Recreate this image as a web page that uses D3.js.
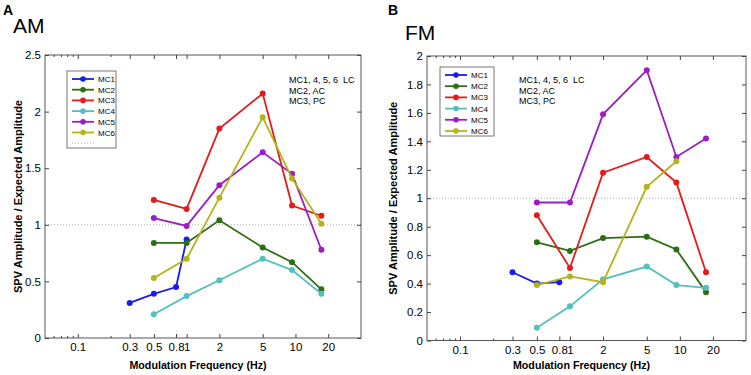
<!DOCTYPE html>
<html>
<head>
<meta charset="UTF-8">
<script src="https://cdn.jsdelivr.net/npm/d3@7"></script>
<style>
  body { margin: 0; background: #fff; }
  svg { font-family: "Liberation Sans", Arial, sans-serif; }
</style>
</head>
<body>
<script>
  // series names and colours
  const seriesNames = ["MC1", "MC2", "MC3", "MC4", "MC5", "MC6"];
  const seriesColors = ["#1a1af2", "#2c6e12", "#e41b1b", "#55bebe", "#9c1ec3", "#b4b41a"];

  // stimulus frequencies (Hz)
  const freqMC1 = [0.3, 0.5, 0.8];
  const freqMC1am = [0.3, 0.5, 0.8, 1];
  const freqMain = [0.5, 1, 2, 5, 9.3, 17.3];
  const freqMC6fm = [0.5, 1, 2, 5, 9.3];

  // AM panel values
  const amMC1 = [0.31, 0.39, 0.45, 0.87];
  const amMC2 = [0.84, 0.84, 1.04, 0.80, 0.67, 0.43];
  const amMC3 = [1.22, 1.14, 1.85, 2.16, 1.17, 1.08];
  const amMC4 = [0.21, 0.37, 0.51, 0.70, 0.60, 0.39];
  const amMC5 = [1.06, 0.99, 1.35, 1.64, 1.45, 0.78];
  const amMC6 = [0.53, 0.70, 1.24, 1.95, 1.41, 1.01];

  // FM panel values
  const fmMC1 = [0.48, 0.40, 0.41];
  const fmMC2 = [0.69, 0.63, 0.72, 0.73, 0.64, 0.34];
  const fmMC3 = [0.88, 0.51, 1.18, 1.29, 1.11, 0.48];
  const fmMC4 = [0.09, 0.24, 0.43, 0.52, 0.39, 0.37];
  const fmMC5 = [0.97, 0.97, 1.59, 1.90, 1.29, 1.42];
  const fmMC6 = [0.39, 0.45, 0.41, 1.08, 1.26];

  // tick values and labels
  const xTicks = [0.1, 0.3, 0.5, 0.8, 1, 2, 5, 10, 20];
  const xTickLabels = ["0.1", "0.3", "0.5", "0.8", "1", "2", "5", "10", "20"];
  const xMinor = [0.06, 0.07, 0.08, 0.09, 0.2];
  const amYTicks = [0, 0.5, 1, 1.5, 2, 2.5];
  const fmYTicks = [0, 0.2, 0.4, 0.6, 0.8, 1, 1.2, 1.4, 1.6, 1.8, 2];
  const noteLines = ["MC1, 4, 5, 6  LC", "MC2, AC", "MC3, PC"];

  const W = 751, H = 375;
  const svg = d3.select("body").append("svg")
    .attr("width", W)
    .attr("height", H);

  function zip(xs, ys) {
    return xs.map((x, i) => ({ f: x, v: ys[i] }));
  }

  function drawPanel(p) {
    const x = d3.scaleLog().domain([0.05, 40]).range([p.left, p.right]);
    const y = d3.scaleLinear().domain(p.yDomain).range([p.bottom, p.top]);

    const g = svg.append("g");

    // panel letter and title
    g.append("text")
      .attr("x", p.letterX).attr("y", 15)
      .style("font-size", "14px").style("font-weight", "bold")
      .text(p.letter);
    g.append("text")
      .attr("x", p.titleX).attr("y", p.titleY)
      .style("font-size", "21px")
      .text(p.title);

    // reference line at 1
    g.append("line")
      .attr("x1", p.left).attr("x2", p.right)
      .attr("y1", y(1)).attr("y2", y(1))
      .attr("stroke", "#b0b0b0")
      .attr("stroke-width", 1)
      .attr("stroke-dasharray", "1,2");

    // axes with inward ticks (all four sides)
    const fmt = (d) => xTickLabels[xTicks.indexOf(d)];
    const bottomAxis = g.append("g")
      .attr("transform", "translate(0," + p.bottom + ")")
      .call(d3.axisBottom(x).tickValues(xTicks).tickFormat(fmt).tickSize(-4).tickPadding(5));
    g.append("g")
      .attr("transform", "translate(0," + p.top + ")")
      .call(d3.axisTop(x).tickValues(xTicks).tickFormat("").tickSize(-4));
    g.append("g")
      .attr("transform", "translate(0," + p.bottom + ")")
      .call(d3.axisBottom(x).tickValues(xMinor).tickFormat("").tickSize(-2));
    g.append("g")
      .attr("transform", "translate(0," + p.top + ")")
      .call(d3.axisTop(x).tickValues(xMinor).tickFormat("").tickSize(-2));

    g.append("g")
      .attr("transform", "translate(" + p.left + ",0)")
      .call(d3.axisLeft(y).tickValues(p.yTicks).tickFormat(d3.format("")).tickSize(-4).tickPadding(4));
    g.append("g")
      .attr("transform", "translate(" + p.right + ",0)")
      .call(d3.axisRight(y).tickValues(p.yTicks).tickFormat("").tickSize(-4));

    g.selectAll(".domain").remove();
    g.selectAll(".tick line").attr("stroke", "#444");
    g.selectAll(".tick text")
      .attr("fill", "#000")
      .style("font-size", "11.5px")
      .style("font-family", "'Liberation Sans', Arial, sans-serif");
    bottomAxis.selectAll(".tick text").attr("dy", "0.72em");

    // frame
    g.append("rect")
      .attr("x", p.left).attr("y", p.top)
      .attr("width", p.right - p.left).attr("height", p.bottom - p.top)
      .attr("fill", "none")
      .attr("stroke", "#444")
      .attr("stroke-width", 0.9);

    // axis labels
    g.append("text")
      .attr("x", (p.left + p.right) / 2 - 5).attr("y", 369)
      .attr("text-anchor", "middle")
      .style("font-size", "10.7px").style("font-weight", "bold")
      .text("Modulation Frequency (Hz)");
    g.append("text")
      .attr("transform", "translate(" + p.yLabelX + "," + ((p.top + p.bottom) / 2) + ") rotate(-90)")
      .attr("text-anchor", "middle")
      .style("font-size", "11px").style("font-weight", "bold")
      .text("SPV Amplitude / Expected Amplitude");

    // series
    const line = d3.line().x(d => x(d.f)).y(d => y(d.v));
    p.series.forEach((s, i) => {
      const data = zip(s.f, s.v);
      g.append("path")
        .datum(data)
        .attr("d", line)
        .attr("fill", "none")
        .attr("stroke", seriesColors[i])
        .attr("stroke-width", 1.8);
      g.selectAll(null)
        .data(data)
        .enter()
        .append("circle")
        .attr("cx", d => x(d.f))
        .attr("cy", d => y(d.v))
        .attr("r", 3)
        .attr("fill", seriesColors[i]);
    });

    // legend
    const lg = p.legend;
    g.append("rect")
      .attr("x", lg.x).attr("y", lg.y)
      .attr("width", lg.w).attr("height", lg.h)
      .attr("fill", "#fff")
      .attr("stroke", "#555")
      .attr("stroke-width", 0.8);
    seriesNames.forEach((name, i) => {
      const yy = lg.y + 8 + i * lg.step;
      g.append("line")
        .attr("x1", lg.x + 5).attr("x2", lg.x + 27)
        .attr("y1", yy).attr("y2", yy)
        .attr("stroke", seriesColors[i]).attr("stroke-width", 1.8);
      g.append("circle")
        .attr("cx", lg.x + 16).attr("cy", yy).attr("r", 2.8)
        .attr("fill", seriesColors[i]);
      g.append("text")
        .attr("x", lg.x + 31).attr("y", yy + 3)
        .style("font-size", "8px")
        .attr("fill", "#000")
        .text(name);
    });
    if (lg.dotted) {
      const yy = lg.y + 8 + seriesNames.length * lg.step;
      g.append("line")
        .attr("x1", lg.x + 5).attr("x2", lg.x + 27)
        .attr("y1", yy).attr("y2", yy)
        .attr("stroke", "#b0b0b0").attr("stroke-dasharray", "1,2");
    }

    // note
    noteLines.forEach((t, i) => {
      g.append("text")
        .attr("x", p.noteX).attr("y", 83 + i * 10.5)
        .style("font-size", "9px")
        .style("white-space", "pre")
        .attr("fill", "#000")
        .text(t);
    });
  }

  drawPanel({
    letter: "A", letterX: 3, title: "AM", titleX: 13, titleY: 33,
    left: 45, right: 361, top: 55, bottom: 338,
    yDomain: [0, 2.5], yTicks: amYTicks, yLabelX: 22,
    noteX: 289,
    legend: { x: 67, y: 71, w: 49, h: 77, step: 10.7, dotted: true },
    series: [
      { f: freqMC1am, v: amMC1 },
      { f: freqMain, v: amMC2 },
      { f: freqMain, v: amMC3 },
      { f: freqMain, v: amMC4 },
      { f: freqMain, v: amMC5 },
      { f: freqMain, v: amMC6 }
    ]
  });

  drawPanel({
    letter: "B", letterX: 388, title: "FM", titleX: 405, titleY: 40,
    left: 427, right: 746, top: 56, bottom: 340.5,
    yDomain: [0, 2], yTicks: fmYTicks, yLabelX: 397,
    noteX: 519,
    legend: { x: 440, y: 67, w: 54, h: 69, step: 11.2, dotted: false },
    series: [
      { f: freqMC1, v: fmMC1 },
      { f: freqMain, v: fmMC2 },
      { f: freqMain, v: fmMC3 },
      { f: freqMain, v: fmMC4 },
      { f: freqMain, v: fmMC5 },
      { f: freqMC6fm, v: fmMC6 }
    ]
  });
</script>
</body>
</html>
